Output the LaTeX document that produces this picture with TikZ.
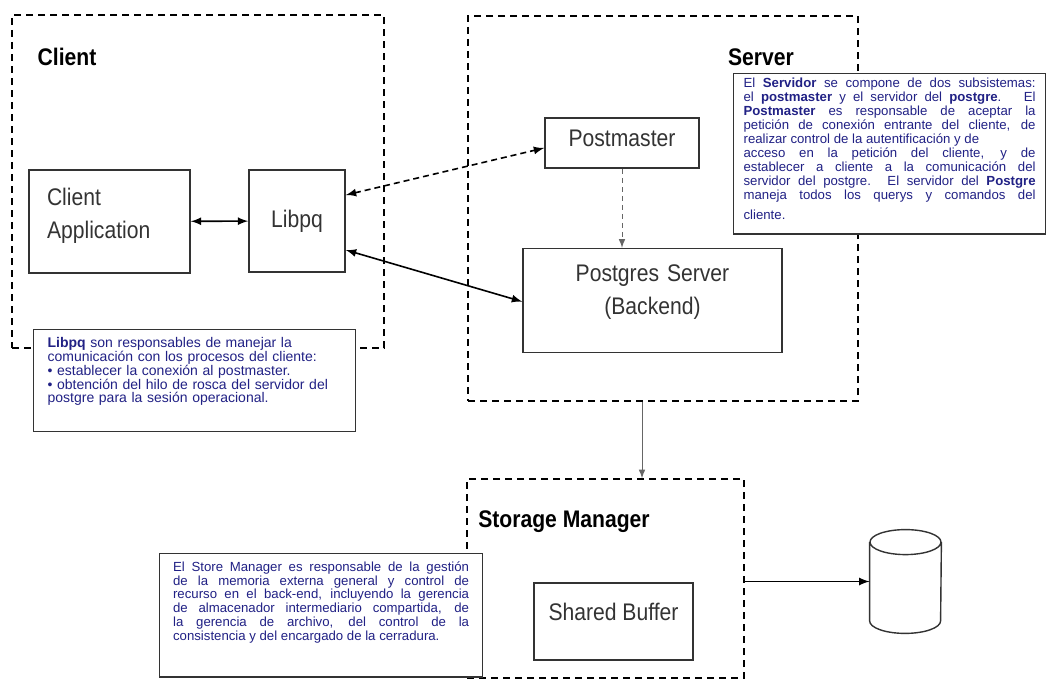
\documentclass[tikz,border=0pt]{standalone}
\usepackage{fontspec}
\setmainfont{Liberation Sans}
\newfontfamily\narrow[FakeStretch=0.88]{Liberation Sans}
\usetikzlibrary{shapes,arrows,fit,positioning}
\definecolor{navy}{rgb}{.13,.13,.52}
\definecolor{ink}{rgb}{.2,.2,.2}
\def\Note{\fontsize{6.6}{6.9}\selectfont}

\begin{document}
\begin{tikzpicture}[% one unit is half a point, y runs down like the picture
      x=0.5pt,y=-0.5pt,
      every node/.style={
        align=center,     % so that "\\" breaks the line
        inner sep=0pt
      },
      blk/.style={rectangle,draw=ink,line width=0.8pt,text=ink,
        font=\narrow\fontsize{12}{16.5}\selectfont},
      grp/.style={draw,line width=0.7pt,dash pattern=on 3.5pt off 2.5pt,inner sep=0pt},
      hdr/.style={font=\narrow\fontsize{12}{14}\selectfont\bfseries},
      note/.style={rectangle,draw=ink,line width=0.6pt,fill=white,text=navy,
        font=\Note,anchor=north west,inner xsep=7pt,inner ysep=4pt},
      every edge/.style={draw,line width=0.8pt},
      >=latex
    ]
    \useasboundingbox (0,0) rectangle (1046,680);
    % dashed groups
    \coordinate (c1) at (12,15);   \coordinate (c2) at (384,348);
    \coordinate (s1) at (468,16);  \coordinate (s2) at (858,401);
    \coordinate (m1) at (467,479); \coordinate (m2) at (744,678);
    \node[grp,fit=(c1)(c2)](CL){};
    \node[grp,fit=(s1)(s2)](SV){};
    \node[grp,fit=(m1)(m2)](SM){};
    \node[hdr](CLt) at (67,57){Client};
    \node[hdr](SVt) at (761,57){Server};
    \node[hdr](SMt) at (564,522){Storage Manager};
    % boxes
    \node[blk,minimum width=80.5pt,minimum height=51.5pt,text width=62.5pt,
      inner xsep=9pt,align=left](CA) at (109.5,221.5){Client\\Application\par\vspace*{6pt}};
    \node[blk,minimum width=48pt,minimum height=51pt](LQ) at (297,221){Libpq};
    \node[blk,minimum width=77pt,minimum height=25pt,text depth=5pt](PM) at (622,143){Postmaster};
    \node[blk,minimum height=52pt,text width=129.5pt](PS)[below=39.5pt of PM,xshift=15.25pt]{Postgres Server\\(Backend)\par\vspace*{8pt}};
    \node[blk,minimum width=79.5pt,minimum height=38.5pt,text depth=10pt](SB) at (613.5,621.5){Shared Buffer};
    % disk
    \node[minimum width=35.5pt,minimum height=51.5pt](DB) at (905.5,581.5){};
    \draw[ink,line width=0.7pt] ([yshift=-6.25pt]DB.north) ellipse [x radius=17.75pt,y radius=6.25pt]
      ([yshift=-6.25pt]DB.north west) -- ([yshift=6.25pt]DB.south west)
      arc [start angle=180,end angle=360,x radius=17.75pt,y radius=6.25pt]
      -- ([yshift=-6.25pt]DB.north east);
    % notes
    \node[note,text width=147pt,align=left,font=\fontsize{7}{6.9}\selectfont](LQn) at (33,329){%
      {\bfseries Libpq} son responsables de manejar la\\
      comunicación con los procesos del cliente:\\
      • establecer la conexión al postmaster.\\
      • obtención del hilo de rosca del servidor del\\
      postgre para la sesión operacional.\par\vspace*{9pt}};
    \node[note,text width=146pt,inner xsep=5pt,inner ysep=2pt,align=justify,
      font=\fontsize{6.6}{7}\selectfont](SVn) at (733,73){%
      El {\bfseries Servidor} se compone de dos subsistemas:\linebreak
      el {\bfseries postmaster} y el servidor del {\bfseries postgre}. \ El\linebreak
      {\bfseries Postmaster} es responsable de aceptar la\linebreak
      petición de conexión entrante del cliente, de\linebreak
      realizar control de la autentificación y de\newline
      acceso en la petición del cliente, y de\linebreak
      establecer a cliente a la comunicación del\linebreak
      servidor del postgre. El servidor del {\bfseries Postgre}\linebreak
      maneja todos los querys y comandos del\linebreak
      \rule{0pt}{8pt}cliente.\par\vspace*{5pt}};
    \node[note,text width=148pt,inner xsep=6.75pt,align=justify](SMn) at (159,553){%
      El Store Manager es responsable de la gestión\linebreak
      de la memoria externa general y control de\linebreak
      recurso en el back-end, incluyendo la gerencia\linebreak
      de almacenador intermediario compartida, de\linebreak
      la gerencia de archivo, del control de la\linebreak
      consistencia y del encargado de la cerradura.\par\vspace*{13pt}};
    % connectors
    \path[<->]
    (CA)edge [] (LQ)
    ([yshift=13pt]LQ.east)edge [dashed,dash pattern=on 3pt off 2pt] ([yshift=-2.5pt]PM.west)
    ([yshift=-14.5pt]LQ.east)edge [] ([yshift=-0.5pt]PS.west)
    ;
    \path[->]
    (PM.south)edge [black!60,line width=0.5pt,dash pattern=on 2.5pt off 2pt] (PM.south |- PS.north)
    ([xshift=-10.5pt]SV.south)edge [black!60,line width=0.5pt] ([xshift=18.25pt]SM.north)
    (SM.east |- DB)edge [] (DB.west)
    ;
  \end{tikzpicture}
\end{document}
